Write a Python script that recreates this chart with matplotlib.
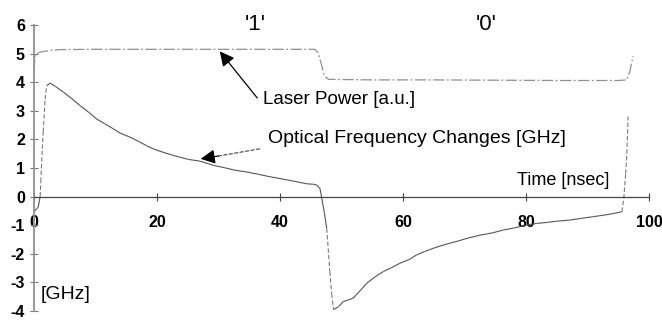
import matplotlib
matplotlib.use("Agg")
import matplotlib.pyplot as plt
import numpy as np
from matplotlib.collections import LineCollection

plt.rcParams['font.family'] = ['Liberation Sans', 'DejaVu Sans']

# Laser power [a.u.]
laser_t = [0, 0.15, 0.5, 1.0, 2.0, 3.0, 4.2, 10, 20, 30, 40, 45.7, 46.2, 46.8, 47.2, 47.9,
           55, 65, 75, 85, 95, 96.4, 96.9, 97.4]
laser_p = [4.4, 4.9, 5.0, 5.05, 5.09, 5.12, 5.14, 5.15, 5.15, 5.15, 5.15, 5.15, 5.03, 4.57, 4.22, 4.1,
           4.08, 4.08, 4.07, 4.06, 4.06, 4.08, 4.39, 4.91]

# Optical frequency changes [GHz]
freq_t = [0, 0.7, 1.0, 1.1, 1.35, 1.5, 1.8, 2.06, 2.6, 3.5, 4.8, 6, 7.5, 9, 10.2, 11.5, 12.9, 14,
          15.6, 17, 18.3, 19.5, 21.0, 22.5, 23.7, 25.1, 27, 29.2, 31, 32.5, 34.6, 36.5, 38, 40.0,
          42, 44.3, 45.5, 46.0, 46.5, 46.8, 47.2, 47.6, 48.1, 48.4, 48.7, 48.9, 49.5, 50.3, 51.0,
          51.9, 53, 54.1, 55.5, 56.8, 58, 59.5, 61, 62.2, 63.5, 64.9, 66, 67.6, 69, 70.4, 72.5,
          74.5, 76.3, 78, 79.0, 80.5, 81.7, 83.5, 85, 87.2, 89, 91, 92.6, 94, 95.6, 95.9, 96.2,
          96.4, 96.6]
freq_ghz = [-0.53, -0.36, 0.0, 0.52, 1.67, 2.26, 3.4, 3.87, 3.97, 3.85, 3.65, 3.45, 3.18, 2.93,
            2.71, 2.55, 2.37, 2.22, 2.08, 1.93, 1.78, 1.66, 1.55, 1.45, 1.38, 1.30, 1.24, 1.09,
            1.01, 0.93, 0.86, 0.78, 0.71, 0.63, 0.55, 0.45, 0.43, 0.40, 0.28, -0.07, -0.55,
            -1.11, -2.62, -3.4, -3.95, -3.93, -3.85, -3.67, -3.62, -3.55, -3.3, -3.03, -2.8,
            -2.62, -2.5, -2.33, -2.2, -2.04, -1.92, -1.81, -1.73, -1.63, -1.55, -1.46, -1.35,
            -1.27, -1.17, -1.10, -1.05, -0.98, -0.94, -0.90, -0.86, -0.82, -0.76, -0.70, -0.65,
            -0.60, -0.53, -0.07, 0.8, 1.5, 2.8]

x_ticks = [0, 20, 40, 60, 80, 100]
y_ticks = [-4, -3, -2, -1, 0, 1, 2, 3, 4, 5, 6]

fig = plt.figure(figsize=(6.62, 3.2), dpi=100)
ax = fig.add_axes([34/662, 1 - 311/320, (649 - 34)/662, (311 - 25)/320])
ax.set_xlim(0, 100)
ax.set_ylim(-4, 6)

# laser power
ax.plot(laser_t, laser_p, color='#909090', lw=0.9, linestyle=(0, (9, 2, 1.5, 2)))

# frequency: steep parts appear dashed
ft = np.array(freq_t); fv = np.array(freq_ghz)
segs = [[(ft[i], fv[i]), (ft[i+1], fv[i+1])] for i in range(len(ft) - 1)]
steep = [abs((fv[i+1] - fv[i]) / (ft[i+1] - ft[i])) > 1.5 for i in range(len(ft) - 1)]
solid_segs = [s for s, st in zip(segs, steep) if not st]
dash_segs = [s for s, st in zip(segs, steep) if st]
ax.add_collection(LineCollection(solid_segs, colors='#555555', linewidths=0.8))
ax.add_collection(LineCollection(dash_segs, colors='#7a7a7a', linewidths=0.8, linestyles=(0, (4, 2))))

# spines
for s in ['top', 'right']:
    ax.spines[s].set_visible(False)
ax.spines['bottom'].set_position(('data', 0))
ax.spines['bottom'].set_color('#444444')
ax.spines['bottom'].set_linewidth(0.9)
ax.spines['left'].set_color('#909090')
ax.spines['left'].set_linewidth(1.3)

ax.set_xticks(x_ticks)
ax.set_yticks(y_ticks)
ax.set_xticklabels([str(v) for v in x_ticks], fontsize=11.5, fontweight='bold')
ax.set_yticklabels([str(v) for v in y_ticks], fontsize=11.5, fontweight='bold')
ax.tick_params(axis='x', direction='inout', length=6, width=0.8, color='#444444', pad=10)
ax.tick_params(axis='y', direction='inout', length=6, width=0.8, color='#777777', pad=3.5)

# texts
ax.text(35.9, 6.02, "'1'", fontsize=16, ha='center', va='center', clip_on=False)
ax.text(73.5, 6.0, "'0'", fontsize=16, ha='center', va='center', clip_on=False)
ax.text(37.2, 3.41, "Laser Power [a.u.]", fontsize=13.5, ha='left', va='center')
ax.text(38.0, 2.02, "Optical Frequency Changes [GHz]", fontsize=14, ha='left', va='center')
ax.text(78.5, 0.56, "Time [nsec]", fontsize=13, ha='left', va='center')
ax.text(1.0, -3.44, "[GHz]", fontsize=14, ha='left', va='center')

# arrows
ax.annotate('', xy=(30.2, 5.08), xytext=(36.3, 3.45),
            arrowprops=dict(arrowstyle='-|>', mutation_scale=22, lw=0.9, color='black',
                            shrinkA=0, shrinkB=0))
ax.annotate('', xy=(29.5, 1.40), xytext=(36.7, 1.67),
            arrowprops=dict(arrowstyle='-', lw=0.8, color='#444444', linestyle=(0, (3, 2)),
                            shrinkA=0, shrinkB=0))
ax.annotate('', xy=(27.1, 1.32), xytext=(30.0, 1.42),
            arrowprops=dict(arrowstyle='-|>', mutation_scale=22, lw=0.8, color='black',
                            shrinkA=0, shrinkB=0))

fig.savefig('out.png', dpi=100)
